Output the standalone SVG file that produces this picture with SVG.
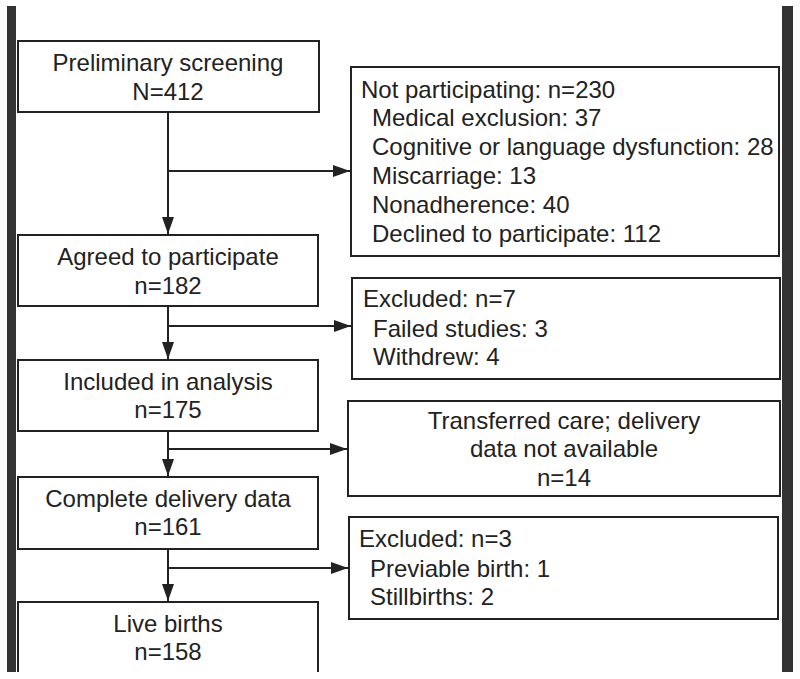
<svg xmlns="http://www.w3.org/2000/svg" width="800" height="679" viewBox="0 0 800 679">
<style>
.box{fill:#fff;stroke:#222;stroke-width:2}
.bar{fill:#333}
text{font-family:"Liberation Sans",Arial,sans-serif;font-size:24px;fill:#222}
.c{text-anchor:middle}
.ln{fill:none;stroke:#222;stroke-width:2}
</style>
<defs>
<marker id="ah" markerUnits="userSpaceOnUse" markerWidth="18" markerHeight="14" viewBox="0 0 18 14" refX="17" refY="7" orient="auto">
<path d="M0,1 L17,7 L0,13 Z" fill="#222"/>
</marker>
</defs>
<rect class="bar" x="7" y="6" width="9" height="666"/>
<rect class="bar" x="782" y="6" width="11" height="666"/>
<g id="connectors">
<path class="ln" d="M168,112 V234" marker-end="url(#ah)"/>
<path class="ln" d="M168,171 H350" marker-end="url(#ah)"/>
<path class="ln" d="M168,306 V359" marker-end="url(#ah)"/>
<path class="ln" d="M168,326 H351" marker-end="url(#ah)"/>
<path class="ln" d="M168,431 V476" marker-end="url(#ah)"/>
<path class="ln" d="M168,449 H347" marker-end="url(#ah)"/>
<path class="ln" d="M168,549 V601" marker-end="url(#ah)"/>
<path class="ln" d="M168,568 H348" marker-end="url(#ah)"/>
</g>
<g id="screening">
<rect class="box" x="18" y="41" width="301" height="71"/>
<text class="c" x="168" y="71">Preliminary screening</text>
<text class="c" x="168" y="100">N=412</text>
</g>
<g id="not-participating">
<rect class="box" x="351" y="67" width="428" height="189"/>
<text x="361" y="98">Not participating: n=230</text>
<text x="372" y="126">Medical exclusion: 37</text>
<text x="372" y="155">Cognitive or language dysfunction: 28</text>
<text x="372" y="184">Miscarriage: 13</text>
<text x="372" y="213">Nonadherence: 40</text>
<text x="372" y="242">Declined to participate: 112</text>
</g>
<g id="agreed">
<rect class="box" x="18" y="235" width="300" height="71"/>
<text class="c" x="168" y="265">Agreed to participate</text>
<text class="c" x="168" y="294">n=182</text>
</g>
<g id="excluded-7">
<rect class="box" x="352" y="278" width="428" height="101"/>
<text x="363" y="307">Excluded: n=7</text>
<text x="373" y="337">Failed studies: 3</text>
<text x="373" y="365">Withdrew: 4</text>
</g>
<g id="included">
<rect class="box" x="18" y="360" width="300" height="71"/>
<text class="c" x="168" y="390">Included in analysis</text>
<text class="c" x="168" y="418">n=175</text>
</g>
<g id="transferred">
<rect class="box" x="348" y="401" width="432" height="95"/>
<text class="c" x="564" y="429">Transferred care; delivery</text>
<text class="c" x="564" y="457">data not available</text>
<text class="c" x="564" y="486">n=14</text>
</g>
<g id="complete">
<rect class="box" x="18" y="477" width="300" height="72"/>
<text class="c" x="168" y="507">Complete delivery data</text>
<text class="c" x="168" y="535">n=161</text>
</g>
<g id="excluded-3">
<rect class="box" x="349" y="517" width="429" height="102"/>
<text x="359" y="547">Excluded: n=3</text>
<text x="370" y="577">Previable birth: 1</text>
<text x="370" y="605">Stillbirths: 2</text>
</g>
<g id="live-births">
<path class="box" d="M18,672 V602 H318 V672"/>
<text class="c" x="168" y="632">Live births</text>
<text class="c" x="168" y="660">n=158</text>
</g>
</svg>
